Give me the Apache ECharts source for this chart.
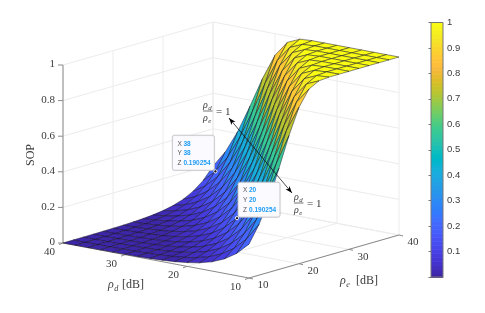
<!DOCTYPE html>
<html><head><meta charset="utf-8">
<style>html,body{margin:0;padding:0;background:#fff}#c{width:485px;height:313px}</style>
<script src="https://cdn.jsdelivr.net/npm/echarts@6/dist/echarts.min.js"></script>
</head><body><div id="c"></div>
<script>
// ---- data ----
const rhoD = [10,12,14,16,18,20,22,24,26,28,30,32,34,36,38,40];
const rhoE = [10,12,14,16,18,20,22,24,26,28,30,32,34,36,38,40];
// one row per rhoD, one column per rhoE
const sop = [
[.1903,.2843,.4114,.5683,.7359,.8788,.9647,.995,.9998,1,1,1,1,1,1,1],
[.1248,.1903,.2843,.4114,.5683,.7359,.8788,.9647,.995,.9998,1,1,1,1,1,1],
[.0806,.1248,.1903,.2843,.4114,.5683,.7359,.8788,.9647,.995,.9998,1,1,1,1,1],
[.0516,.0806,.1248,.1903,.2843,.4114,.5683,.7359,.8788,.9647,.995,.9998,1,1,1,1],
[.0329,.0516,.0806,.1248,.1903,.2843,.4114,.5683,.7359,.8788,.9647,.995,.9998,1,1,1],
[.0209,.0329,.0516,.0806,.1248,.1903,.2843,.4114,.5683,.7359,.8788,.9647,.995,.9998,1,1],
[.0132,.0209,.0329,.0516,.0806,.1248,.1903,.2843,.4114,.5683,.7359,.8788,.9647,.995,.9998,1],
[.0084,.0132,.0209,.0329,.0516,.0806,.1248,.1903,.2843,.4114,.5683,.7359,.8788,.9647,.995,.9998],
[.0053,.0084,.0132,.0209,.0329,.0516,.0806,.1248,.1903,.2843,.4114,.5683,.7359,.8788,.9647,.995],
[.0033,.0053,.0084,.0132,.0209,.0329,.0516,.0806,.1248,.1903,.2843,.4114,.5683,.7359,.8788,.9647],
[.0021,.0033,.0053,.0084,.0132,.0209,.0329,.0516,.0806,.1248,.1903,.2843,.4114,.5683,.7359,.8788],
[.0013,.0021,.0033,.0053,.0084,.0132,.0209,.0329,.0516,.0806,.1248,.1903,.2843,.4114,.5683,.7359],
[.0008,.0013,.0021,.0033,.0053,.0084,.0132,.0209,.0329,.0516,.0806,.1248,.1903,.2843,.4114,.5683],
[.0005,.0008,.0013,.0021,.0033,.0053,.0084,.0132,.0209,.0329,.0516,.0806,.1248,.1903,.2843,.4114],
[.0003,.0005,.0008,.0013,.0021,.0033,.0053,.0084,.0132,.0209,.0329,.0516,.0806,.1248,.1903,.2843],
[.0002,.0003,.0005,.0008,.0013,.0021,.0033,.0053,.0084,.0132,.0209,.0329,.0516,.0806,.1248,.1903]
];
const rhoDTicks = [40,30,20,10];
const rhoETicks = [10,20,30,40];
const sopTicks = [0,0.2,0.4,0.6,0.8,1];
const dataTips = [[38,38,0.190254],[20,20,0.190254]];
const parula = [[.2422,.1504,.6603],[.2504,.165,.7076],[.2578,.1818,.7511],[.2647,.1978,.7952],[.2706,.2147,.8364],[.2751,.2342,.871],[.2783,.2559,.8991],[.2803,.2782,.9221],[.2813,.3006,.9414],[.281,.3228,.9579],[.2795,.3447,.9717],[.276,.3667,.9829],[.2699,.3892,.9906],[.2602,.4123,.9952],[.244,.4358,.9988],[.2206,.4603,.9973],[.1963,.4847,.9892],[.1834,.5074,.9798],[.1786,.5289,.9682],[.1764,.5499,.952],[.1687,.5703,.9359],[.154,.5902,.9218],[.146,.6091,.9079],[.138,.6276,.8973],[.1248,.6459,.8883],[.1113,.6635,.8763],[.0952,.6798,.8598],[.0689,.6948,.8394],[.0297,.7082,.8163],[.0036,.7203,.7917],[.0067,.7312,.766],[.0433,.7411,.7394],[.0964,.75,.712],[.1408,.7584,.6842],[.1717,.767,.6554],[.1938,.7758,.6251],[.2161,.7843,.5923],[.247,.7918,.5567],[.2906,.7973,.5188],[.3406,.8008,.4789],[.3909,.8029,.4354],[.4456,.8024,.3909],[.5044,.7993,.348],[.5616,.7942,.3045],[.6174,.7876,.2612],[.672,.7793,.2227],[.7242,.7698,.191],[.7738,.7598,.1646],[.8203,.7498,.1535],[.8634,.7406,.1596],[.9035,.733,.1774],[.9393,.7288,.21],[.9728,.7298,.2394],[.9956,.7434,.2371],[.997,.7659,.2199],[.9952,.7893,.2028],[.9892,.8136,.1885],[.9786,.8386,.1766],[.9676,.8639,.1643],[.961,.889,.1537],[.9597,.9135,.1423],[.9628,.9373,.1265],[.9691,.9606,.1064],[.9769,.9839,.0805]];

// ---- fixed parallel view of the 3D box ----
const view = {x0:63, y0:243, xD:186, yD:35, xE:150, yE:-43, yZ:-178};
function project(d, e, z) {
  const u = (40 - d) / 30, v = (e - 10) / 30;
  return [view.x0 + view.xD*u + view.xE*v, view.y0 + view.yD*u + view.yE*v + view.yZ*z];
}
function colorOf(z) {
  const c = parula[Math.min(63, Math.max(0, Math.floor(z*64)))];
  return 'rgb(' + c.map(k => Math.round(k*255)).join(',') + ')';
}
const SERIF = '"Liberation Serif","Times New Roman",serif';
const SANS = '"Liberation Sans",Arial,sans-serif';
const INK = '#3a3a3a', AXIS = '#8a8a8a', GRID = '#ececec';

// surface quads, back to front
const quads = [];
for (let i = rhoD.length-2; i >= 0; i--) for (let j = rhoE.length-2; j >= 0; j--) quads.push([i,j]);

let api0;
const P = (d,e,z) => api0.coord(project(d,e,z));
const Q = (x,y) => api0.coord([x,y]);
const line = (a,b,stroke,w) => ({type:'line',silent:true,shape:{x1:a[0],y1:a[1],x2:b[0],y2:b[1]},style:{stroke,lineWidth:w}});
const text = (s,p,font,fill,align) => ({type:'text',silent:true,style:{text:s,x:p[0],y:p[1],font,fill,align:align||'center',verticalAlign:'middle'}});
const rho = (x,y,sub,size,out) => {
  out.push(text('ρ',[x,y],'italic '+size+'px '+SERIF,INK,'left'));
  out.push(text(sub,[x+size*0.52,y+size*0.28],'italic '+(size*0.68)+'px '+SERIF,INK,'left'));
};

function renderFrame(params, api) {
  api0 = api;
  const c = [];
  // walls and floor grid
  sopTicks.forEach(z => {
    c.push(line(P(40,10,z),P(40,40,z),GRID,1));
    c.push(line(P(40,40,z),P(10,40,z),GRID,1));
  });
  rhoETicks.forEach(e => {
    c.push(line(P(40,e,0),P(40,e,1),GRID,1));
    if (e>10) c.push(line(P(40,e,0),P(10,e,0),GRID,1));
  });
  rhoDTicks.forEach(d => {
    c.push(line(P(d,40,0),P(d,40,1),GRID,1));
    if (d<40) c.push(line(P(d,10,0),P(d,40,0),GRID,1));
  });
  // axis lines
  c.push(line(P(40,10,0),P(40,10,1),AXIS,1));
  c.push(line(P(40,10,0),P(10,10,0),AXIS,1));
  c.push(line(P(10,10,0),P(10,40,0),AXIS,1));
  sopTicks.forEach(z => {
    const p = P(40,10,z);
    c.push(line([p[0]-5,p[1]],p,AXIS,1));
    c.push(text(String(z),[p[0]-8,p[1]-0.5],'11px '+SERIF,INK,'right'));
  });
  rhoDTicks.forEach(d => {
    const p = P(d,10,0);
    c.push(line(p,[p[0]-4,p[1]+1.5],AXIS,1));
    c.push(text(String(d),[p[0]-13.5,p[1]+9],'11px '+SERIF,INK));
  });
  rhoETicks.forEach(e => {
    const p = P(10,e,0);
    c.push(line(p,[p[0]+4,p[1]+1],AXIS,1));
    c.push(text(String(e),[p[0]+14,p[1]+7.5],'11px '+SERIF,INK));
  });
  // axis titles
  const sopAt = Q(31,155);
  c.push({type:'text',silent:true,x:sopAt[0],y:sopAt[1],rotation:Math.PI/2,
    style:{text:'SOP',x:0,y:0,font:'12px '+SERIF,fill:INK,align:'center',verticalAlign:'middle'}});
  rho(108,285,'d',12,c);
  c.push(text('[dB]',[122,285],'12px '+SERIF,INK,'left'));
  rho(340,281,'e',12,c);
  c.push(text('[dB]',[356,281],'12px '+SERIF,INK,'left'));
  return {type:'group',children:c};
}

function renderQuad(params, api) {
  const i = api.value(0), j = api.value(1);
  const corners = [[i,j],[i+1,j],[i+1,j+1],[i,j+1]];
  let sum = 0;
  const pts = corners.map(k => {
    const z = sop[k[0]][k[1]]; sum += z;
    return api.coord(project(rhoD[k[0]],rhoE[k[1]],z));
  });
  return {type:'polygon',silent:true,shape:{points:pts},
    style:{fill:colorOf(sum/4),stroke:'rgba(15,15,30,0.85)',lineWidth:0.55,lineJoin:'round'}};
}

function arrowHead(tip, from) {
  const dx = from[0]-tip[0], dy = from[1]-tip[1], l = Math.hypot(dx,dy), ux=dx/l, uy=dy/l;
  return {type:'polygon',silent:true,shape:{points:[tip,
    [tip[0]+ux*7-uy*2.6,tip[1]+uy*7+ux*2.6],
    [tip[0]+ux*5.2,tip[1]+uy*5.2],
    [tip[0]+ux*7+uy*2.6,tip[1]+uy*7-ux*2.6]]},style:{fill:'#000'}};
}
function fraction(x,y,c) {
  rho(x,y-6,'d',10,c);
  c.push(line([x,y],[x+9.5,y],INK,0.7));
  rho(x,y+7,'e',10,c);
  c.push(text('= 1',[x+13,y+1],'11px '+SERIF,INK,'left'));
}
function renderNotes(params, api) {
  api0 = api;
  const c = [];
  const a = Q(229,118), b = Q(292,193);
  c.push(line(a,b,'#000',0.7), arrowHead(a,b), arrowHead(b,a));
  fraction(203,111,c);
  fraction(294,203,c);
  dataTips.forEach((t,k) => {
    const m = P(t[0],t[1],t[2]);
    const left = k===0 ? m[0]-43 : m[0]+1;
    const top = m[1]-36;
    c.push({type:'rect',silent:true,shape:{x:left,y:top,width:42,height:35,r:2},
      style:{fill:'#fbfbff',stroke:'#c9c9cf',lineWidth:0.8,shadowBlur:1,shadowColor:'rgba(0,0,0,0.15)'}});
    ['X','Y','Z'].forEach((n,r) => {
      const y = top+8.5+r*9.6;
      c.push(text(n,[left+5,y],'6.5px '+SANS,'#555','left'));
      c.push(text(r<2?String(t[r]):t[r].toFixed(6),[left+11,y],'bold 6.5px '+SANS,'#1e9bf5','left'));
    });
    c.push({type:'circle',silent:true,shape:{cx:m[0],cy:m[1],r:1.6},style:{fill:'#111',stroke:'#fff',lineWidth:0.9}});
  });
  return {type:'group',children:c};
}

function renderBar(params, api) {
  const k = api.value(0);
  const a = api.coord([0,k/64]), b = api.coord([1,(k+1)/64]);
  return {type:'rect',silent:true,shape:{x:a[0],y:b[1],width:b[0]-a[0],height:a[1]-b[1]+0.6},style:{fill:colorOf((k+.5)/64)}};
}

const chart = echarts.init(document.getElementById('c'),null,{renderer:'canvas'});
chart.setOption({
  animation:false, backgroundColor:'#fff',
  tooltip:{show:false},
  grid:[
    {left:0,top:0,width:485,height:313},
    {left:431,top:22.5,width:12,height:254.5,z:5,show:true,borderColor:'#777',borderWidth:1,backgroundColor:'transparent'}
  ],
  xAxis:[
    {gridIndex:0,type:'value',min:0,max:485,show:false},
    {gridIndex:1,type:'value',min:0,max:1,position:'bottom',axisLabel:{show:false},axisTick:{show:false},splitLine:{show:false},
      axisLine:{show:true,onZero:false,lineStyle:{color:'#777',width:1}}}
  ],
  yAxis:[
    {gridIndex:0,type:'value',min:0,max:313,inverse:true,show:false},
    {gridIndex:1,type:'value',min:0,max:1,interval:0.1,position:'right',
      axisLine:{show:true,lineStyle:{color:'#777',width:1}},
      axisTick:{show:true,inside:true,length:2.5,lineStyle:{color:'#777'}},
      splitLine:{show:false},
      axisLabel:{margin:4,fontSize:9.5,fontFamily:SANS,color:INK,formatter:v=>v===0?'':String(Math.round(v*10)/10)}}
  ],
  series:[
    {type:'custom',xAxisIndex:0,yAxisIndex:0,z:1,silent:true,clip:false,data:[[0]],renderItem:renderFrame},
    {type:'custom',xAxisIndex:0,yAxisIndex:0,z:2,silent:true,clip:false,data:quads,renderItem:renderQuad},
    {type:'custom',xAxisIndex:0,yAxisIndex:0,z:3,silent:true,clip:false,data:[[0]],renderItem:renderNotes},
    {type:'custom',xAxisIndex:1,yAxisIndex:1,z:2,silent:true,clip:false,data:parula.map((c,k)=>[k]),renderItem:renderBar}
  ]
});
</script></body></html>
